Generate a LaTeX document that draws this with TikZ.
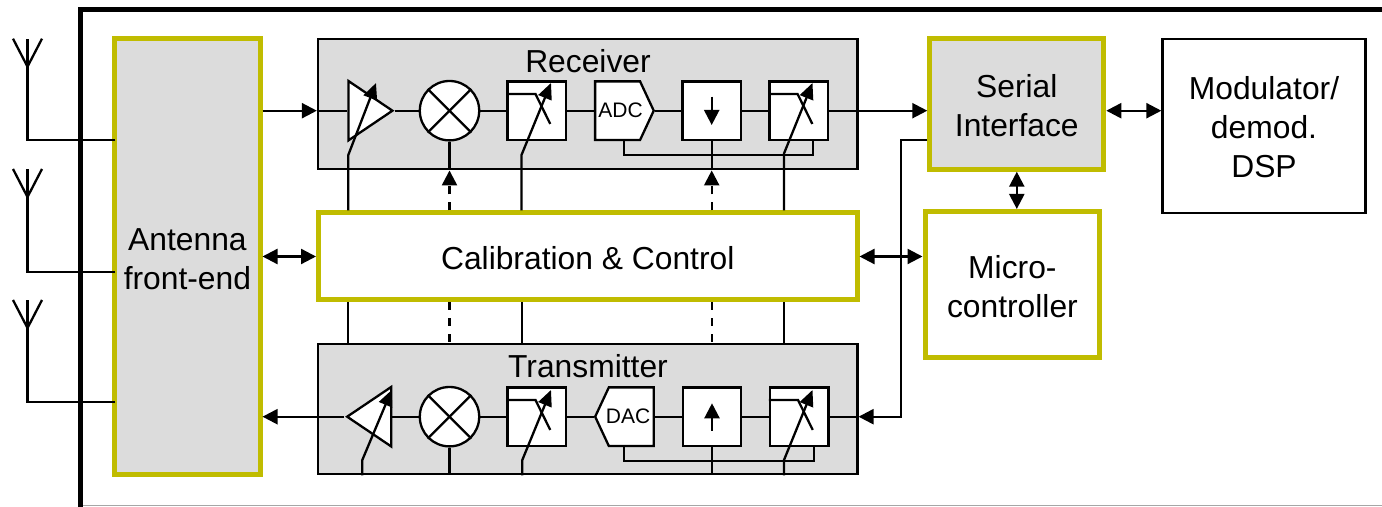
\documentclass[tikz,border=0pt]{standalone}
\usepackage{fontspec}
\setmainfont{Liberation Sans}
\usetikzlibrary{arrows.meta,shapes.geometric,shapes.symbols}
\definecolor{blockgrey}{RGB}{220,220,220}
\definecolor{ctrlyellow}{RGB}{192,188,0}
\tikzset{
  wire/.style={line width=1.15pt},
  arrowwire/.style={wire,-{Stealth[inset=0pt,length=7.5pt,width=7.5pt]}},
  biwire/.style={wire,{Stealth[inset=0pt,length=7.5pt,width=7.5pt]}-{Stealth[inset=0pt,length=7.5pt,width=7.5pt]}},
  tunewire/.style={wire,-{Stealth[inset=0pt,length=8pt,width=7pt]}},
  ctrlwire/.style={wire,dash pattern=on 4pt off 4pt},
  chain/.style={draw,line width=1.15pt,fill=blockgrey,inner sep=0pt,anchor=center},
  hiblock/.style={draw=ctrlyellow,line width=2.5pt,inner sep=0pt,align=center,font=\fontsize{15.9}{19.5}\selectfont},
  plainblock/.style={draw,line width=1.15pt,inner sep=0pt,align=center,font=\fontsize{15.9}{19.5}\selectfont},
  title/.style={inner sep=0pt,font=\fontsize{15.9}{18}\selectfont},
  stage/.style={draw,fill=white,line width=1.15pt,inner sep=0pt,minimum width=29.3pt,minimum height=29.3pt},
  mixer/.style={draw,fill=white,circle,line width=1.15pt,inner sep=0pt,minimum size=29.7pt},
  amp/.style={draw,fill=white,line width=1.15pt,isosceles triangle,isosceles triangle stretches,inner sep=0pt,minimum width=29.7pt,minimum height=22pt},
  converter/.style={draw,fill=white,line width=1.15pt,signal,inner sep=0pt,minimum width=29.3pt,minimum height=29.3pt,signal pointer angle=130},
  convtext/.style={inner sep=0pt,font=\fontsize{10.5}{12}\selectfont},
}
\newcommand{\lowertext}[1]{\rule{0pt}{#1}}
\begin{document}
\begin{tikzpicture}[x=0.5pt,y=-0.5pt]

\useasboundingbox (0,0) rectangle (1382,507);

%%%%%%%%%%%%%%%% enclosure

\coordinate (frame-bl) at (80.5,507);
\coordinate (frame-tl) at (80.5,9.8);
\coordinate (frame-tr) at (1382,9.8);
\coordinate (frame-gl) at (83,505.7);
\coordinate (frame-gr) at (1382,505.7);
\draw [line width=2.5pt]   (frame-bl) -- (frame-tl) -- (frame-tr);
\draw [line width=0.5pt,gray!70]   (frame-gl) -- (frame-gr);


%%%%%%%%%%%%%%%% main blocks

\node [hiblock,fill=blockgrey,minimum width=72.6pt,minimum height=218.25pt] (ant) at (187.4,256.75){\lowertext{13.5pt}Antenna\\front-end};

\node [chain,minimum width=269.7pt,minimum height=65.3pt] (rx) at (587.7,104){};
\node [title] (rx-title) at (588,61){Receiver};

\node [chain,minimum width=269.7pt,minimum height=65.3pt] (tx) at (587.7,409){};
\node [title] (tx-title) at (588,366){Transmitter};

\node [hiblock,fill=white,minimum width=269.25pt,minimum height=43.5pt] (calib) at (587.75,256.5){\lowertext{13.2pt}Calibration \& Control};

\node [hiblock,fill=blockgrey,minimum width=87pt,minimum height=65.35pt] (serial) at (1016.8,103.85){\lowertext{13.5pt}Serial\\Interface};

\node [hiblock,fill=white,minimum width=87.4pt,minimum height=73pt] (micro) at (1012.4,284.5){\lowertext{13.5pt}Micro-\\controller};

\node [plainblock,minimum width=101.5pt,minimum height=87.15pt] (dsp) at (1264,125.85){\lowertext{12.4pt}Modulator/\\demod.\\DSP};


%%%%%%%%%%%%%%%% antennas

\foreach \n/\y/\v in {1/66.7/140.3,2/197/271.7,3/328/402.3}{
\coordinate (dipole-\n) at (27.5,\y);
\coordinate (feed-\n) at (27.5,\v);
\draw [wire]   ([xshift=1.5pt]ant.west |- feed-\n) -- (feed-\n) -- (dipole-\n) -- ++(0,-28);
\draw [wire]   (dipole-\n) -- ++(-14.5,-28);
\draw [wire]   (dipole-\n) -- ++(14.5,-28);
}


%%%%%%%%%%%%%%%% receiver chain

\node [amp,anchor=lower side] (rx-amp) at (347.3,110.7){};
\node [mixer] (rx-mix) at (449.5,110.7){};
\node [stage] (rx-f1) at (536.7,110.7){};
\node [converter,signal to=east,anchor=center] (rx-adc) at (617.6,110.7){};
\node [convtext] (rx-adc-text) at (620.5,110.7){ADC};
\node [stage] (rx-dec) at (711.7,110.7){};
\node [stage] (rx-f2) at (798.8,110.7){};

\draw [arrowwire]   (ant.east |- rx-mix) -- (rx.west |- rx-mix);
\draw [wire]   (rx.west |- rx-mix) -- (rx-amp.lower side);
\draw [wire]   (rx-amp.apex) -- (rx-mix.west);
\draw [wire]   (rx-mix.east) -- (rx-f1.west);
\draw [wire]   (rx-f1.east) -- (rx-adc.west);
\draw [wire]   (rx-adc.east) -- (rx-dec.west);
\draw [wire]   (rx-dec.east) -- (rx-f2.west);
\draw [arrowwire]   (rx-f2.east) -- (rx-f2.east -| serial.west);

\coordinate (rx-dec-a) at (711.7,96.7);
\coordinate (rx-dec-b) at (711.7,125);
\draw [arrowwire]   (rx-dec-a) -- (rx-dec-b);

\coordinate (rx-bus-l) at (624,155);
\coordinate (rx-bus-r) at (813.3,155);
\draw [wire]   (rx-bus-l |- rx-adc.south) -- (rx-bus-l) -- (rx-bus-r) -- (rx-bus-r |- rx-f2.south);


%%%%%%%%%%%%%%%% transmitter chain

\node [amp,anchor=lower side,shape border rotate=180] (tx-amp) at (392.3,416.7){};
\node [mixer] (tx-mix) at (449.5,416.7){};
\node [stage] (tx-f1) at (536.7,416.7){};
\node [converter,signal to=west,anchor=center] (tx-dac) at (631.3,416.7){};
\node [convtext] (tx-dac-text) at (628,416.7){DAC};
\node [stage] (tx-int) at (712,416.7){};
\node [stage] (tx-f2) at (799.2,416.7){};

\draw [arrowwire]   (tx-amp.apex) -- (ant.east |- tx-amp.apex);
\draw [wire]   (tx-mix.west) -- (tx-amp.lower side);
\draw [wire]   (tx-f1.west) -- (tx-mix.east);
\draw [wire]   (tx-dac.west) -- (tx-f1.east);
\draw [wire]   (tx-int.west) -- (tx-dac.east);
\draw [wire]   (tx-f2.west) -- (tx-int.east);
\draw [wire]   (tx.east |- tx-f2) -- (tx-f2.east);

\coordinate (tx-int-a) at (712,431);
\coordinate (tx-int-b) at (712,403.3);
\draw [arrowwire]   (tx-int-a) -- (tx-int-b);

\coordinate (tx-bus-l) at (624,460.7);
\coordinate (tx-bus-r) at (814,460.7);
\draw [wire]   (tx-bus-l |- tx-dac.south) -- (tx-bus-l) -- (tx-bus-r) -- (tx-bus-r |- tx-f2.south);


%%%%%%%%%%%%%%%% mixer crosses and filter curves

\foreach \m in {rx-mix,tx-mix}{
\draw [wire]   (\m.45) -- (\m.225);
\draw [wire]   (\m.135) -- (\m.315);
}

\foreach \f in {rx-f1,rx-f2,tx-f1,tx-f2}{
\draw [wire]   ([yshift=-6.85pt]\f.north west) -- ([shift={(14.6pt,-6.85pt)}]\f.north west) -- ([shift={(22pt,-21.85pt)}]\f.north west);
}


%%%%%%%%%%%%%%%% control lines

\coordinate (rx-v1) at (348.3,155);
\coordinate (rx-a1) at (376,83);
\draw [tunewire]   (rx-v1 |- calib.north) -- (rx-v1) -- (rx-a1);

\coordinate (rx-v2) at (521.5,155);
\coordinate (rx-a2) at (551,83);
\draw [tunewire]   (rx-v2 |- calib.north) -- (rx-v2) -- (rx-a2);

\coordinate (rx-v3) at (784,153.5);
\coordinate (rx-a3) at (812.5,83);
\draw [tunewire]   (rx-v3 |- calib.north) -- (rx-v3) -- (rx-a3);

\draw [wire]   (rx-mix.south) -- (rx-mix |- rx.south);
\draw [ctrlwire,-{Stealth[inset=0pt,length=7.5pt,width=7.5pt]}]   (rx-mix |- calib.north) -- (rx-mix |- rx.south);

\draw [wire]   (rx-dec.south) -- (rx-dec |- rx.south);
\draw [ctrlwire,-{Stealth[inset=0pt,length=7.5pt,width=7.5pt]}]   (rx-dec |- calib.north) -- (rx-dec |- rx.south);



\coordinate (tx-v1) at (362.3,460);
\coordinate (tx-a1) at (391.7,390);
\draw [tunewire]   (tx-v1 |- tx.south) -- (tx-v1) -- (tx-a1);

\coordinate (tx-v2) at (522.3,460);
\coordinate (tx-a2) at (551,390);
\draw [tunewire]   (tx-v2 |- tx.south) -- (tx-v2) -- (tx-a2);

\coordinate (tx-v3) at (784,460);
\coordinate (tx-a3) at (812.5,390);
\draw [tunewire]   (tx-v3 |- tx.south) -- (tx-v3) -- (tx-a3);

\draw [wire]   (tx-mix.south) -- (tx-mix |- tx.south);
\draw [wire]   (tx-int.south) -- (tx-int |- tx.south);

\draw [wire]   (rx-v1 |- calib.south) -- (rx-v1 |- tx.north);
\draw [wire]   (tx-v2 |- calib.south) -- (tx-v2 |- tx.north);
\draw [wire]   (tx-v3 |- calib.south) -- (tx-v3 |- tx.north);
\draw [ctrlwire]   (tx-mix |- calib.south) -- (tx-mix |- tx.north);
\draw [ctrlwire]   (rx-dec |- calib.south) -- (rx-dec |- tx.north);


%%%%%%%%%%%%%%%% block links

\draw [biwire]   (ant.east |- calib.west) -- (calib.west);
\draw [biwire]   (calib.east) -- (calib.east -| micro.west);
\draw [biwire]   (serial.south) -- (serial.south |- micro.north);
\draw [biwire]   (rx-f2.east -| serial.east) -- (rx-f2.east -| dsp.west);

\coordinate (ser-turn) at (900.8,140);
\draw [arrowwire]   (ser-turn -| serial.west) -- (ser-turn) -- (ser-turn |- tx-f2) -- (tx.east |- tx-f2);

\end{tikzpicture}
\end{document}
